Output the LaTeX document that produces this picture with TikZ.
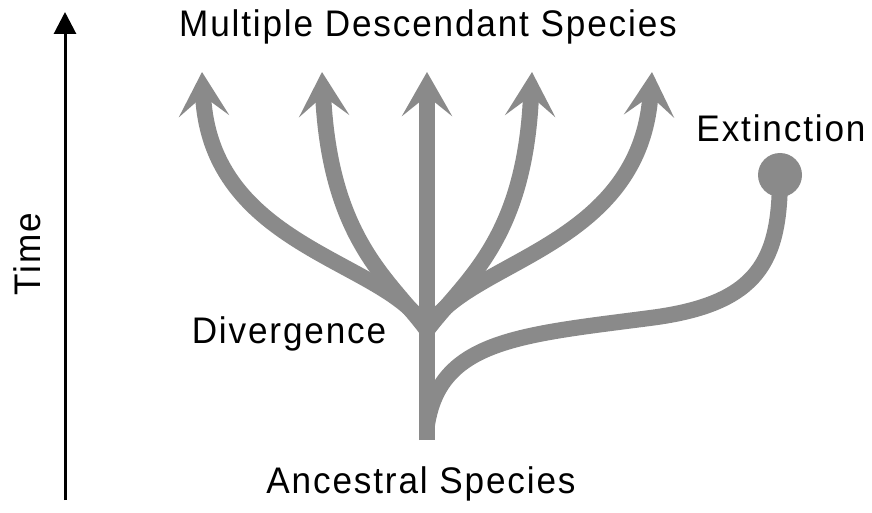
\documentclass[tikz,border=0pt]{standalone}
\usepackage{fontspec}
\setmainfont{Liberation Sans}[FakeStretch=0.95, LetterSpace=5]
\usepackage{xcolor}
\usetikzlibrary{arrows.meta,positioning,calc}
\definecolor{branchgray}{RGB}{138,138,138}

\begin{document}
\begin{tikzpicture}[
x=1pt, y=-1pt,
label/.style={font=\fontsize{37}{42}\selectfont, inner sep=0pt, anchor=base},
branch/.style={draw=branchgray, line width=16pt, -{Stealth[length=44pt, width=50pt, inset=20pt]}},
stem/.style={draw=branchgray, line width=16pt},
axis/.style={line width=3pt, -{Triangle[length=22pt, width=22pt]}}
]
\useasboundingbox (0,0) rectangle (872,513);
\coordinate (base) at (427,440);
\coordinate (div) at (427,330);
\coordinate (tipA) at (202,72);
\coordinate (tipB) at (322,72);
\coordinate (tipC) at (427,72);
\coordinate (tipD) at (532,72);
\coordinate (tipE) at (652,72);
\coordinate (fork) at (427,425);
\coordinate (bend) at (650,318);
\node[circle, fill=branchgray, minimum size=44pt, inner sep=0pt] (dead) at (780,175) {};
\node[label] (top) at (428,37) {Multiple Descendant Species};
\node[label] (anc) at (421,493) {Ancestral Species};
\node[label] (divtext) at (289,343) {Divergence};
\node[label] (ext) at (781,142) {Extinction};
\node[label, rotate=90] (time) at (40,254) {Time};
\coordinate (tbot) at (65,500);
\coordinate (ttop) at (65,12);
\draw[axis] (tbot) -- (ttop);
% branches
\draw[stem] (fork) .. controls (440,340) and (520,335) .. (bend)
  .. controls (760,304) and (780,260) .. (dead.center);
\draw[branch] (base) -- (tipC);
\draw[branch] (div) .. controls (390,260) and (210,250) .. (tipA);
\draw[branch] (div) .. controls (390,280) and (330,240) .. (tipB);
\draw[branch] (div) .. controls (465,280) and (525,240) .. (tipD);
\draw[branch] (div) .. controls (465,260) and (640,250) .. (tipE);
\end{tikzpicture}
\end{document}
